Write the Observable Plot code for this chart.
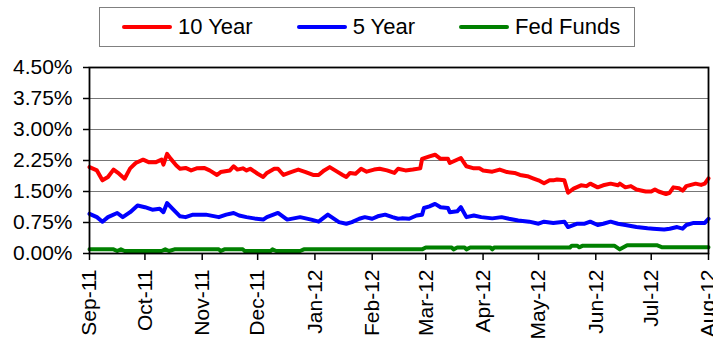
<!DOCTYPE html>
<html><head><meta charset="utf-8">
<script src="https://cdn.jsdelivr.net/npm/d3@7"></script>
<script src="https://cdn.jsdelivr.net/npm/@observablehq/plot@0.6"></script>
<style>
body{margin:0;background:#fff;font-family:"Liberation Sans",Arial,sans-serif;}
#legend{position:relative;height:50px;width:713px;}
#legend .box{position:absolute;left:99px;top:7px;width:536px;height:40px;border:1px solid #808080;box-sizing:border-box;display:flex;align-items:center;padding-left:22px;gap:44px;}
#legend .item{display:flex;align-items:center;font-size:22px;color:#000;white-space:nowrap;}
#legend .sw{display:inline-block;width:50px;height:4px;border-radius:2px;margin-right:6px;}
</style>
</head><body>
<div id="legend"><div class="box"></div></div>
<div id="chart"></div>
<script>
const seriesNames = ["10 Year", "5 Year", "Fed Funds"];
const seriesColors = ["#ff0000", "#0000ff", "#008000"];

const tenYearDates = ["2011-09-01","2011-09-05","2011-09-08","2011-09-11","2011-09-14","2011-09-17","2011-09-20","2011-09-23","2011-09-26","2011-09-30",
"2011-10-03","2011-10-07","2011-10-10","2011-10-11","2011-10-13","2011-10-15","2011-10-18","2011-10-20","2011-10-23","2011-10-26","2011-10-29",
"2011-11-02","2011-11-05","2011-11-09","2011-11-11","2011-11-16","2011-11-18","2011-11-20","2011-11-23","2011-11-25","2011-11-27",
"2011-12-01","2011-12-04","2011-12-06","2011-12-10","2011-12-12","2011-12-15","2011-12-19","2011-12-23","2011-12-27","2011-12-31",
"2012-01-03","2012-01-06","2012-01-09","2012-01-13","2012-01-16","2012-01-18","2012-01-20","2012-01-23","2012-01-26","2012-01-29",
"2012-02-02","2012-02-05","2012-02-09","2012-02-13","2012-02-15","2012-02-19","2012-02-23","2012-02-27","2012-02-28",
"2012-03-03","2012-03-06","2012-03-09","2012-03-13","2012-03-14","2012-03-17","2012-03-20","2012-03-23","2012-03-27","2012-03-30",
"2012-04-01","2012-04-06","2012-04-10","2012-04-14","2012-04-18","2012-04-21","2012-04-25","2012-04-28",
"2012-05-01","2012-05-04","2012-05-07","2012-05-09","2012-05-11","2012-05-15","2012-05-17","2012-05-20","2012-05-24","2012-05-27","2012-05-29",
"2012-06-02","2012-06-05","2012-06-09","2012-06-13","2012-06-14","2012-06-17","2012-06-20","2012-06-23","2012-06-28",
"2012-07-01","2012-07-03","2012-07-05","2012-07-09","2012-07-11","2012-07-13","2012-07-16","2012-07-18","2012-07-20","2012-07-25","2012-07-28","2012-07-30","2012-08-01"];
const tenYear = [2.09,2.01,1.77,1.85,2.03,1.93,1.81,2.06,2.19,2.27,
2.21,2.21,2.27,2.15,2.41,2.29,2.13,2.05,2.07,2.01,2.06,
2.07,2.01,1.90,1.97,2.01,2.11,2.03,2.06,2.01,2.05,
1.93,1.85,1.95,2.05,2.05,1.90,1.97,2.03,1.97,1.90,
1.90,2.01,2.09,1.98,1.90,1.85,1.95,1.93,2.05,1.98,
2.03,2.05,2.01,1.95,2.05,2.01,2.03,2.06,2.29,
2.35,2.39,2.29,2.29,2.19,2.25,2.31,2.11,2.06,2.06,
2.01,1.98,2.03,1.97,1.95,1.90,1.87,1.82,
1.77,1.70,1.77,1.77,1.79,1.77,1.47,1.57,1.65,1.63,1.69,
1.60,1.65,1.69,1.65,1.69,1.60,1.63,1.55,1.50,
1.50,1.55,1.50,1.44,1.47,1.60,1.58,1.52,1.63,1.69,1.66,1.69,1.82];

const fiveYearDates = ["2011-09-01","2011-09-05","2011-09-08","2011-09-11","2011-09-16","2011-09-19","2011-09-23","2011-09-27",
"2011-10-01","2011-10-05","2011-10-09","2011-10-11","2011-10-13","2011-10-16","2011-10-20","2011-10-23","2011-10-27",
"2011-11-03","2011-11-10","2011-11-14","2011-11-18","2011-11-21","2011-11-25","2011-11-29",
"2011-12-04","2011-12-06","2011-12-12","2011-12-17","2011-12-24","2011-12-30",
"2012-01-03","2012-01-08","2012-01-10","2012-01-14","2012-01-18","2012-01-21","2012-01-25","2012-01-28",
"2012-02-01","2012-02-04","2012-02-08","2012-02-12","2012-02-15","2012-02-17","2012-02-21","2012-02-25","2012-02-28","2012-02-29",
"2012-03-03","2012-03-06","2012-03-09","2012-03-13","2012-03-14","2012-03-18","2012-03-20","2012-03-23","2012-03-27","2012-03-31",
"2012-04-06","2012-04-11","2012-04-15","2012-04-20","2012-04-26",
"2012-05-01","2012-05-04","2012-05-09","2012-05-15","2012-05-17","2012-05-22","2012-05-26","2012-05-29",
"2012-06-02","2012-06-05","2012-06-09","2012-06-13","2012-06-17","2012-06-23","2012-06-29",
"2012-07-02","2012-07-08","2012-07-11","2012-07-15","2012-07-18","2012-07-20","2012-07-24","2012-07-30","2012-08-01"];
const fiveYear = [0.96,0.88,0.77,0.88,0.98,0.88,1.00,1.16,
1.12,1.06,1.08,1.00,1.22,1.08,0.90,0.88,0.94,
0.94,0.88,0.94,0.98,0.92,0.88,0.85,
0.82,0.88,0.98,0.82,0.88,0.82,
0.77,0.94,0.88,0.76,0.72,0.76,0.84,0.88,
0.84,0.90,0.94,0.88,0.84,0.85,0.84,0.92,0.94,1.10,
1.14,1.20,1.12,1.10,1.00,1.02,1.12,0.88,0.92,0.88,
0.85,0.88,0.84,0.80,0.77,
0.72,0.77,0.74,0.77,0.64,0.72,0.72,0.77,
0.69,0.72,0.77,0.72,0.69,0.64,0.61,
0.60,0.58,0.60,0.64,0.60,0.69,0.74,0.74,0.84];

const fedFundsDates = ["2011-09-01","2011-09-14","2011-09-16","2011-09-18","2011-09-20","2011-10-10","2011-10-12","2011-10-14","2011-10-17",
"2011-11-10","2011-11-11","2011-11-13","2011-11-23","2011-11-24","2011-12-08","2011-12-09","2011-12-11","2011-12-24","2011-12-26",
"2012-02-28","2012-03-01","2012-03-15","2012-03-16","2012-03-18","2012-03-22","2012-03-23","2012-03-25","2012-04-05","2012-04-06","2012-04-07",
"2012-05-18","2012-05-19","2012-05-22","2012-05-23","2012-05-25","2012-06-11","2012-06-14","2012-06-18","2012-07-04","2012-07-07","2012-08-01"];
const fedFunds = [0.10,0.10,0.06,0.10,0.06,0.06,0.10,0.06,0.10,
0.10,0.06,0.10,0.10,0.06,0.06,0.10,0.06,0.06,0.10,
0.10,0.145,0.145,0.10,0.145,0.145,0.10,0.145,0.145,0.10,0.145,
0.145,0.19,0.19,0.15,0.19,0.19,0.10,0.20,0.20,0.15,0.15];

const yTicks = [0, 0.75, 1.5, 2.25, 3, 3.75, 4.5];
const monthTicks = ["2011-09-01","2011-10-01","2011-11-01","2011-12-01","2012-01-01","2012-02-01","2012-03-01","2012-04-01","2012-05-01","2012-06-01","2012-07-01","2012-08-01"];

const toRows = (dates, vals, name) => dates.map((d, i) => ({date: new Date(d), value: vals[i], series: name}));
const rows10 = toRows(tenYearDates, tenYear, seriesNames[0]);
const rows5 = toRows(fiveYearDates, fiveYear, seriesNames[1]);
const rowsFF = toRows(fedFundsDates, fedFunds, seriesNames[2]);
const tickDates = monthTicks.map(d => new Date(d));

// legend
const box = document.querySelector("#legend .box");
seriesNames.forEach((n, i) => {
  const it = document.createElement("div");
  it.className = "item";
  it.innerHTML = `<span class="sw" style="background:${seriesColors[i]}"></span><span>${n}</span>`;
  box.appendChild(it);
});

const chart = Plot.plot({
  width: 713,
  height: 288,
  marginTop: 17,
  marginBottom: 85,
  marginLeft: 89,
  marginRight: 5,
  style: {fontFamily: "Liberation Sans, Arial, sans-serif", fontSize: "21px", color: "#000", background: "#fff", overflow: "visible"},
  x: {type: "utc", domain: [tickDates[0], tickDates[tickDates.length - 1]]},
  y: {domain: [0, 4.5]},
  marks: [
    Plot.gridY(yTicks, {stroke: "#777", strokeOpacity: 1, strokeWidth: 1.2}),
    Plot.line(rows10, {x: "date", y: "value", stroke: seriesColors[0], strokeWidth: 4}),
    Plot.line(rows5, {x: "date", y: "value", stroke: seriesColors[1], strokeWidth: 4}),
    Plot.line(rowsFF, {x: "date", y: "value", stroke: seriesColors[2], strokeWidth: 4}),
    Plot.frame({stroke: "#000", strokeWidth: 1.8}),
    Plot.axisY(yTicks, {tickSize: 6, tickPadding: 11, tickFormat: d => d.toFixed(2) + "%", label: null, strokeWidth: 1.5}),
    Plot.axisX(tickDates, {tickSize: 7, tickPadding: 9, tickRotate: -90, tickFormat: d3.utcFormat("%b-%y"), label: null, strokeWidth: 1.5})
  ]
});
document.getElementById("chart").appendChild(chart);
</script>
</body></html>
